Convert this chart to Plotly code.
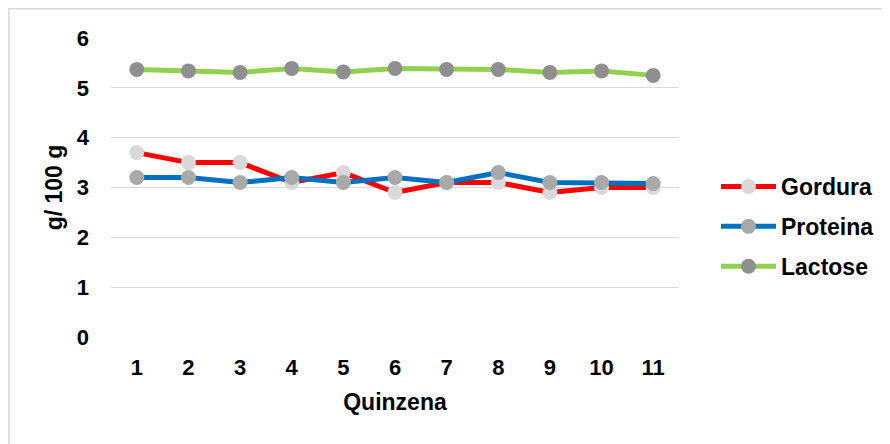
import plotly.graph_objects as go

quinzena = [1, 2, 3, 4, 5, 6, 7, 8, 9, 10, 11]
gordura = [3.7, 3.5, 3.5, 3.1, 3.3, 2.9, 3.1, 3.1, 2.9, 3.0, 3.0]
proteina = [3.2, 3.2, 3.1, 3.2, 3.1, 3.2, 3.1, 3.3, 3.1, 3.1, 3.08]
lactose = [5.37, 5.34, 5.31, 5.39, 5.32, 5.39, 5.37, 5.37, 5.31, 5.34, 5.25]
y_ticks = [0, 1, 2, 3, 4, 5, 6]

FONT = "Liberation Sans, Arial, sans-serif"

fig = go.Figure()
series = [
    ("Gordura", gordura, "#FF0000", "#D9D9D9"),
    ("Proteina", proteina, "#0070C0", "#A9A9A9"),
    ("Lactose", lactose, "#92D050", "#8F8F8F"),
]
for name, vals, lc, mc in series:
    fig.add_trace(go.Scatter(
        x=quinzena, y=vals, name=name, mode="lines+markers",
        line=dict(color=lc, width=5),
        marker=dict(color=mc, size=15),
        legendgroup=name,
    ))

# page body has an 8px margin, so figure coords = screen coords - 8
OFF = 8
W, H = 890 - OFF, 444 - OFF
L, R, T, B = 111 - OFF, 680 - OFF, 38 - OFF, 337 - OFF

def px_x(p):
    return (p - L) / (R - L)

def px_y(p):
    return (B - p) / (B - T)

fig.update_layout(
    width=W, height=H,
    margin=dict(l=L, r=W - R, t=T, b=H - B, pad=0),
    paper_bgcolor="white", plot_bgcolor="white",
    font=dict(family=FONT, color="#000000", size=22, weight="bold"),
    showlegend=True,
    legend=dict(
        x=px_x(708), y=px_y(157), xanchor="left", yanchor="top",
        font=dict(family=FONT, size=23, weight="bold", color="#000000"),
        itemwidth=55, tracegroupgap=7, bgcolor="rgba(0,0,0,0)",
    ),
    xaxis=dict(
        range=[0.5, 11.5], tickmode="array", tickvals=quinzena,
        ticktext=[str(q) for q in quinzena],
        showgrid=False, zeroline=False, showline=False,
        tickfont=dict(family=FONT, size=22, weight="bold", color="#000000"),
        ticks="", ticklabelstandoff=15,
        title=dict(text="Quinzena", font=dict(family=FONT, size=23, weight="bold"), standoff=14),
    ),
    yaxis=dict(
        range=[0, 6], tickmode="array", tickvals=y_ticks,
        showgrid=True, gridcolor="#D9D9D9", gridwidth=1,
        zeroline=False, showline=False,
        tickfont=dict(family=FONT, size=22, weight="bold", color="#000000"),
        ticks="", ticklabelstandoff=21,
        title=dict(text="g/ 100 g", font=dict(family=FONT, size=23, weight="bold"), standoff=7),
    ),
    shapes=[dict(
        type="rect", xref="paper", yref="paper",
        x0=px_x(0.75), x1=px_x(W + 10), y0=px_y(H + 10), y1=px_y(0.75),
        line=dict(color="#D9D9D9", width=1.5), fillcolor="rgba(0,0,0,0)", layer="below",
    )],
)

fig.write_html("out.html")
